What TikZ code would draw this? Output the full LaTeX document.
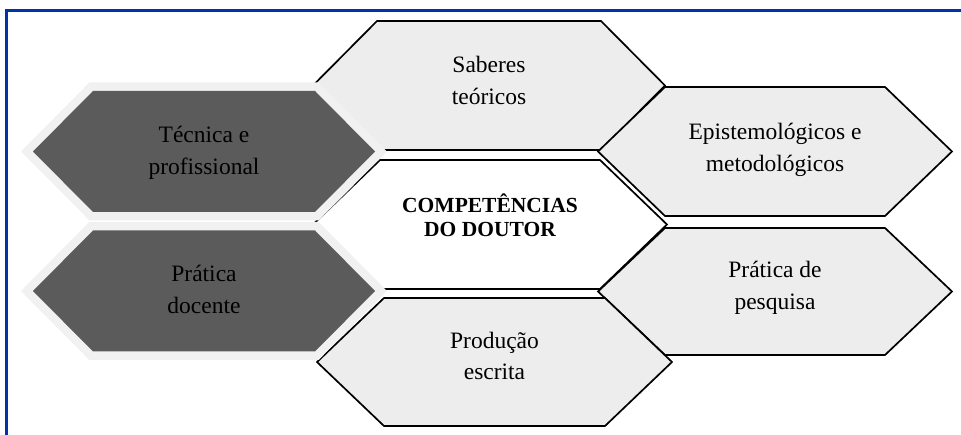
\documentclass[tikz,border=0pt]{standalone}
\usepackage{fontspec}
\setmainfont{Liberation Serif}
\definecolor{framblue}{RGB}{0,51,170}
\definecolor{lightfill}{RGB}{237,237,237}
\definecolor{darkfill}{RGB}{91,91,91}
\definecolor{halocol}{RGB}{241,241,241}
\newcommand\hexpath[6]{\path[#1] ({#2-#4},{#3}) -- ({#2-#4+#6},{#3-#5}) -- ({#2+#4-#6},{#3-#5}) -- ({#2+#4},{#3}) -- ({#2+#4-#6},{#3+#5}) -- ({#2-#4+#6},{#3+#5}) -- cycle;}
\begin{document}
\begin{tikzpicture}[x=1pt,y=-1pt,
  lightbox/.style={draw=black, line width=1.7pt, fill=lightfill, line join=miter},
  whitebox/.style={draw=black, line width=1.7pt, fill=white, line join=miter},
  darkbox/.style={fill=darkfill, preaction={draw=halocol, line width=17pt, line join=miter}},
  lbl/.style={inner sep=0pt, align=center, font=\fontsize{23.5}{32}\selectfont},
  blbl/.style={inner sep=0pt, align=center, font=\bfseries\fontsize{21.5}{23.3}\selectfont},
]
\useasboundingbox (0,0) rectangle (961,435);
\fill[white] (0,0) rectangle (961,435);
\draw[framblue, line width=3pt, line join=miter] (6.5,436) -- (6.5,10.5) -- (962,10.5);
% light hexagons
\hexpath{lightbox}{489}{85.5}{176}{64.5}{64}
\hexpath{lightbox}{775}{151.5}{177}{64.5}{67}
\hexpath{whitebox}{490}{224.5}{177}{64.5}{67}
\hexpath{lightbox}{775}{291.5}{177}{63.5}{67}
\hexpath{lightbox}{494.5}{362}{177.5}{64}{67}
% dark hexagons with halo
\hexpath{darkbox}{204}{151.5}{171}{60.5}{60}
\hexpath{darkbox}{204}{291}{171}{60.5}{60}
% labels
\node[lbl] (sab) at (489,82.6) {\strut Saberes\\\strut teóricos};
\node[lbl] (epi) at (775,149.6) {\strut Epistemológicos e\\\strut metodológicos};
\node[lbl] (tec) at (204,152.6) {\strut Técnica e\\\strut profissional};
\node[blbl] (comp) at (490,218.7) {\strut COMPETÊNCIAS\\\strut DO DOUTOR};
\node[lbl] (doc) at (204,291.6) {\strut Prática\\\strut docente};
\node[lbl] (pes) at (775,287.6) {\strut Prática de\\\strut pesquisa};
\node[lbl] (pro) at (494.5,357.6) {\strut Produção\\\strut escrita};
\end{tikzpicture}
\end{document}
